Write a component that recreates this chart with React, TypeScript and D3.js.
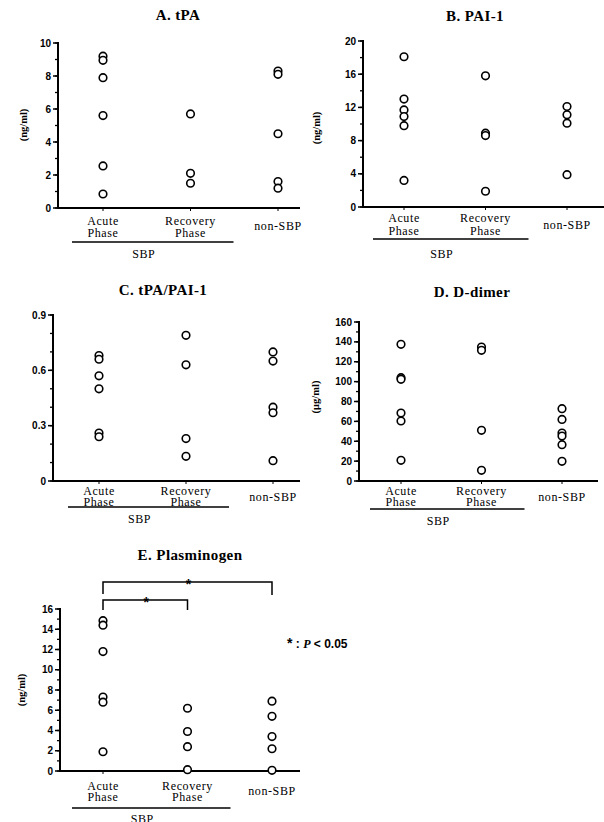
import React from "react";
import * as d3 from "d3";

const categories = ["Acute Phase", "Recovery Phase", "non-SBP"];

// A. tPA (ng/ml)
const tpaAcute = [9.2, 8.95, 7.9, 5.6, 2.55, 0.85];
const tpaRecovery = [5.7, 2.1, 1.5];
const tpaNon = [8.3, 8.1, 4.5, 1.6, 1.2];

// B. PAI-1 (ng/ml)
const paiAcute = [18.1, 13.0, 11.7, 10.9, 9.8, 3.2];
const paiRecovery = [15.8, 8.9, 8.6, 1.9];
const paiNon = [12.1, 11.1, 10.1, 3.9];

// C. tPA/PAI-1
const ratioAcute = [0.68, 0.66, 0.57, 0.5, 0.26, 0.24];
const ratioRecovery = [0.79, 0.63, 0.23, 0.134];
const ratioNon = [0.7, 0.65, 0.4, 0.37, 0.11];

// D. D-dimer (ug/ml)
const ddAcute = [137.5, 104, 102.3, 68.4, 60.4, 20.8];
const ddRecovery = [134.8, 131.5, 51, 10.7];
const ddNon = [72.8, 62, 48.3, 45.3, 36.6, 19.8];

// E. Plasminogen (ng/ml)
const plgAcute = [14.85, 14.4, 11.8, 7.3, 6.8, 1.9];
const plgRecovery = [6.2, 3.9, 2.4, 0.13];
const plgNon = [6.9, 5.4, 3.4, 2.2, 0.07];

const tpaTicks = [0, 2, 4, 6, 8, 10];
const paiTicks = [0, 4, 8, 12, 16, 20];
const ratioTicks = [0, 0.3, 0.6, 0.9];
const ddTicks = [0, 20, 40, 60, 80, 100, 120, 140, 160];
const plgTicks = [0, 2, 4, 6, 8, 10, 12, 14, 16];

const SERIF = "'Liberation Serif', 'Times New Roman', serif";
const SANS = "'Liberation Sans', Arial, sans-serif";

type PanelProps = {
  title: string;
  titleX: number;
  titleY: number;
  ylabel?: string;
  ylabelX?: number;
  ylabelY?: number;
  axisX: number;
  yTop: number;
  y0: number;
  xEnd: number;
  max: number;
  ticks: number[];
  minor: number;
  fmt: (v: number) => string;
  catRange: [number, number];
  values: number[][];
  offs: number[]; // line1, line2, underline, SBP, nonSBP
};

function Panel(p: PanelProps) {
  const y = d3.scaleLinear().domain([0, p.max]).range([p.y0, p.yTop]);
  const x = d3.scalePoint<string>().domain(categories).range(p.catRange);
  const minorTicks = d3.range(0, p.max + p.minor / 2, p.minor);
  const xa = x(categories[0])!;
  const xr = x(categories[1])!;
  const xn = x(categories[2])!;
  const [o1, o2, ou, os, on] = p.offs;
  return (
    <g>
      <text x={p.titleX} y={p.titleY} textAnchor="middle" fontFamily={SERIF} fontWeight="bold" fontSize={15} letterSpacing={0.4}>
        {p.title}
      </text>
      {p.ylabel && (
        <text
          transform={`translate(${p.ylabelX},${p.ylabelY}) rotate(-90)`}
          textAnchor="middle"
          fontFamily={SERIF}
          fontWeight="bold"
          fontSize={10.5}
        >
          {p.ylabel}
        </text>
      )}
      <line x1={p.axisX} x2={p.axisX} y1={p.yTop - 1} y2={p.y0} stroke="#000" strokeWidth={2} />
      <line x1={p.axisX - 1} x2={p.xEnd} y1={p.y0} y2={p.y0} stroke="#000" strokeWidth={2} />
      {minorTicks.map((t, i) => (
        <line key={"m" + i} x1={p.axisX - 3} x2={p.axisX} y1={y(t)} y2={y(t)} stroke="#000" strokeWidth={1.3} />
      ))}
      {p.ticks.map((t, i) => (
        <g key={"t" + i}>
          <line x1={p.axisX - 5} x2={p.axisX} y1={y(t)} y2={y(t)} stroke="#000" strokeWidth={1.5} />
          <text x={p.axisX - 7} y={y(t) + 3.5} textAnchor="end" fontFamily={SANS} fontWeight="bold" fontSize={10}>
            {p.fmt(t)}
          </text>
        </g>
      ))}
      {categories.map((c, i) => (
        <line key={"xt" + i} x1={x(c)!} x2={x(c)!} y1={p.y0} y2={p.y0 + 3} stroke="#000" strokeWidth={1} />
      ))}
      {p.values.map((arr, ci) =>
        arr.map((v, j) => (
          <circle key={ci + "-" + j} cx={x(categories[ci])!} cy={y(v)} r={3.8} fill="#fff" stroke="#000" strokeWidth={1.6} />
        ))
      )}
      <g fontFamily={SERIF} fontSize={12} letterSpacing={0.6} textAnchor="middle">
        <text x={xa} y={p.y0 + o1}>Acute</text>
        <text x={xa} y={p.y0 + o2}>Phase</text>
        <text x={xr} y={p.y0 + o1}>Recovery</text>
        <text x={xr} y={p.y0 + o2}>Phase</text>
        <text x={xn} y={p.y0 + on}>non-SBP</text>
        <text x={(xa + xr) / 2 - 3} y={p.y0 + os}>SBP</text>
      </g>
      <line x1={xa - 31} x2={xr + 43} y1={p.y0 + ou} y2={p.y0 + ou} stroke="#000" strokeWidth={1.6} />
    </g>
  );
}

export default function App() {
  const plgY = d3.scaleLinear().domain([0, 16]).range([771, 609]);
  const plgX = d3.scalePoint<string>().domain(categories).range([103, 272]);
  const bx0 = plgX(categories[0])!;
  const bx1 = plgX(categories[1])!;
  const bx2 = plgX(categories[2])!;
  const outerTop = plgY(16) - 27;
  const innerTop = plgY(16) - 9;
  return (
    <svg width={604} height={822} style={{ position: "absolute", left: 0, top: 0, background: "#fff" }}>
      <rect width={604} height={822} fill="#fff" />
      <Panel
        title="A.  tPA" titleX={178} titleY={20}
        ylabel="(ng/ml)" ylabelX={27} ylabelY={125}
        axisX={58} yTop={43} y0={208} xEnd={300} max={10} ticks={tpaTicks} minor={1}
        fmt={(v) => String(v)} catRange={[103, 278]}
        values={[tpaAcute, tpaRecovery, tpaNon]}
        offs={[17, 29, 34, 50, 22]}
      />
      <Panel
        title="B.  PAI-1" titleX={475} titleY={21}
        ylabel="(ng/ml)" ylabelX={320} ylabelY={128}
        axisX={363} yTop={41} y0={207} xEnd={604} max={20} ticks={paiTicks} minor={2}
        fmt={(v) => String(v)} catRange={[404, 567]}
        values={[paiAcute, paiRecovery, paiNon]}
        offs={[15, 28, 32, 51, 22]}
      />
      <Panel
        title="C.  tPA/PAI-1" titleX={163} titleY={295}
        axisX={53} yTop={315} y0={481} xEnd={300} max={0.9} ticks={ratioTicks} minor={0.1}
        fmt={(v) => (v === 0 ? "0" : v.toFixed(1))} catRange={[99, 273]}
        values={[ratioAcute, ratioRecovery, ratioNon]}
        offs={[14, 25, 26, 42, 20]}
      />
      <Panel
        title="D.  D-dimer" titleX={472} titleY={297}
        ylabel="(μg/ml)" ylabelX={319} ylabelY={397}
        axisX={359} yTop={322} y0={481} xEnd={598} max={160} ticks={ddTicks} minor={10}
        fmt={(v) => String(v)} catRange={[401, 562]}
        values={[ddAcute, ddRecovery, ddNon]}
        offs={[14, 25, 28, 44, 20]}
      />
      <Panel
        title="E.  Plasminogen" titleX={190} titleY={560}
        ylabel="(ng/ml)" ylabelX={25} ylabelY={690}
        axisX={60} yTop={609} y0={771} xEnd={300} max={16} ticks={plgTicks} minor={1}
        fmt={(v) => String(v)} catRange={[103, 272]}
        values={[plgAcute, plgRecovery, plgNon]}
        offs={[19, 30, 37, 52, 24]}
      />
      {/* significance brackets */}
      <path d={`M${bx0},${outerTop + 12} V${outerTop} H${bx2} V${outerTop + 13}`} fill="none" stroke="#000" strokeWidth={1.5} />
      <text x={(bx0 + bx2) / 2 + 1} y={outerTop + 7} textAnchor="middle" fontFamily={SANS} fontWeight="bold" fontSize={14}>*</text>
      <path d={`M${bx0},${innerTop + 10} V${innerTop} H${bx1} V${innerTop + 10}`} fill="none" stroke="#000" strokeWidth={1.5} />
      <text x={(bx0 + bx1) / 2 + 1} y={innerTop + 7} textAnchor="middle" fontFamily={SANS} fontWeight="bold" fontSize={14}>*</text>
      <text x={287} y={648} fontFamily={SANS} fontWeight="bold" fontSize={12}>
        <tspan fontSize={14}>*</tspan>
        <tspan> : </tspan>
        <tspan fontStyle="italic" fontFamily={SERIF}>P</tspan>
        <tspan> &lt; 0.05</tspan>
      </text>
    </svg>
  );
}
